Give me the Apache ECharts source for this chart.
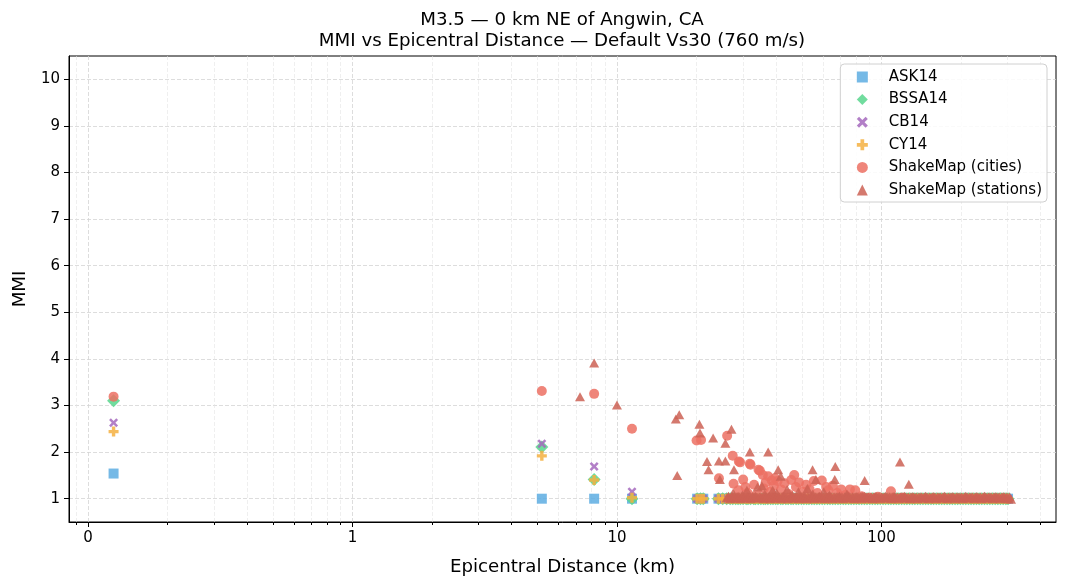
<!DOCTYPE html>
<html>
<head>
<meta charset="utf-8">
<script src="https://cdn.jsdelivr.net/npm/echarts@6/dist/echarts.min.js"></script>
<style>
html, body { margin: 0; padding: 0; background: #fff; }
#chart { width: 1067px; height: 588px; }
</style>
</head>
<body>
<div id="chart"></div>
<script>
// near-field model predictions (km, MMI)
const modelDist = [0.125, 5.2, 8.2, 11.4, 20.1, 20.7, 21.2, 24.2, 25.1];
const ask14MMI  = [1.54, 1.00, 1.00, 1.00, 1.00, 1.00, 1.00, 1.00, 1.00];
const bssa14MMI = [3.10, 2.11, 1.41, 1.00, 1.00, 1.00, 1.00, 1.00, 1.00];
const cb14MMI   = [2.63, 2.18, 1.69, 1.15, 1.00, 1.00, 1.00, 1.00, 1.00];
const cy14MMI   = [2.44, 1.92, 1.40, 1.02, 1.00, 1.00, 1.00, 1.00, 1.00];

// ShakeMap cities
const cityDist = [0.125, 5.2, 8.2, 11.4, 20.0, 20.8, 26.1, 27.4, 28.9, 29.2, 31.8, 32.0, 34.3, 34.7,
  24.3, 27.6, 30.0, 37.3, 39.6, 46.8, 35.6, 38.5, 59.5, 65.5, 76.0, 79.6, 108.6,
  28.8, 30.6, 31.2, 33.0, 33.8, 35.9, 36.5, 38.0, 39.2, 40.5, 41.8, 43.0, 44.5, 45.6, 47.5, 48.8,
  50.4, 51.9, 53.5, 55.5, 57.3, 61.8, 63.0, 68.0, 70.4, 73.1, 84.0, 90.0, 97.0, 120.0];
const cityMMI = [3.19, 3.31, 3.25, 2.50, 2.25, 2.26, 2.35, 1.92, 1.80, 1.78, 1.75, 1.73, 1.62, 1.60,
  1.44, 1.32, 1.41, 1.48, 1.44, 1.51, 1.51, 1.39, 1.39, 1.28, 1.20, 1.18, 1.16,
  1.18, 1.25, 1.12, 1.30, 1.08, 1.22, 1.35, 1.15, 1.28, 1.38, 1.20, 1.33, 1.10, 1.40, 1.25, 1.35,
  1.15, 1.30, 1.20, 1.38, 1.12, 1.25, 1.18, 1.12, 1.20, 1.08, 1.05, 1.02, 1.04, 1.02];

// ShakeMap stations (off the floor)
const stationDist = [7.25, 8.2, 10.0, 16.7, 17.2, 16.9, 20.5, 20.6, 21.9, 22.2, 23.1, 24.3, 24.5, 25.7,
  25.7, 27.1, 27.7, 31.8, 37.3, 40.7, 41.6, 54.9, 56.5, 66.9, 66.6, 35.3, 86.4, 117.5, 126.9,
  26.4, 27.5, 28.3, 29.8, 31.0, 32.6, 34.0, 36.2, 37.6, 38.8, 40.2, 42.5, 44.0, 46.0, 48.5, 51.0,
  52.5, 55.0, 58.2, 60.5, 63.5, 69.5, 74.0, 78.0, 84.5, 95.0, 112.0];
const stationMMI = [3.19, 3.91, 3.01, 2.71, 2.80, 1.50, 2.60, 2.41, 1.80, 1.62, 2.30, 1.81, 1.41, 2.19,
  1.81, 2.49, 1.62, 2.00, 2.00, 1.62, 1.48, 1.62, 1.41, 1.69, 1.41, 1.28, 1.39, 1.79, 1.31,
  1.05, 1.12, 1.02, 1.08, 1.18, 1.05, 1.25, 1.10, 1.06, 1.18, 1.12, 1.05, 1.20, 1.08, 1.15, 1.05,
  1.22, 1.10, 1.05, 1.15, 1.08, 1.05, 1.10, 1.03, 1.05, 1.03, 1.04];

// stations near the MMI floor (a solid band in the picture); all models give MMI 1 there
const floorMMI = 1.0;
const floorDist = [26.0, 26.8, 27.4, 28.1, 28.7, 29.3, 30.0, 30.8, 31.3, 32.0, 32.9, 33.4, 34.2,
  35.0, 35.8, 36.4, 37.2, 38.1, 38.9, 39.8, 40.6, 41.6, 42.4, 43.5, 44.4, 45.5, 46.4, 47.6, 48.6,
  49.8, 50.9, 52.1, 53.2, 54.5, 55.7, 57.0, 58.3, 59.7, 61.0, 62.5, 63.9, 65.4, 66.9, 68.5, 70.0,
  71.7, 73.3, 75.1, 76.8, 78.6, 80.4, 82.3, 84.2, 86.2, 88.2, 90.3, 92.4, 94.6, 96.8, 99.0, 101.4,
  103.7, 106.2, 108.6, 111.2, 113.8, 116.4, 119.2, 122.0, 124.8, 127.8, 130.8, 133.8, 137.0, 140.2,
  143.5, 146.9, 150.3, 153.9, 157.5, 161.2, 165.0, 168.9, 172.9, 177.0, 181.1, 185.4, 189.8, 194.2,
  198.8, 203.5, 208.3, 213.2, 218.2, 223.4, 228.6, 234.0, 239.5, 245.2, 251.0, 256.9, 262.9, 269.1,
  275.5, 281.9, 288.6, 295.4, 301.0, 309.0];
const stationFloorMMI = [1.02, 1.00, 1.04, 1.01, 1.05, 1.00, 1.03, 1.01, 1.04, 1.00, 1.02, 1.05, 1.01,
  1.03, 1.00, 1.04, 1.02, 1.00, 1.05, 1.01, 1.03, 1.00, 1.04, 1.02, 1.00, 1.05, 1.01, 1.03, 1.00,
  1.04, 1.01, 1.00, 1.03, 1.05, 1.00, 1.02, 1.04, 1.01, 1.00, 1.03, 1.05, 1.00, 1.02, 1.04, 1.01,
  1.00, 1.03, 1.05, 1.01, 1.00, 1.04, 1.02, 1.00, 1.05, 1.03, 1.01, 1.00, 1.04, 1.02, 1.00, 1.03,
  1.05, 1.01, 1.00, 1.04, 1.02, 1.00, 1.03, 1.05, 1.01, 1.00, 1.04, 1.02, 1.00, 1.03,
  1.01, 1.05, 1.00, 1.02, 1.04, 1.00, 1.03, 1.01, 1.05, 1.00, 1.02, 1.04, 1.00, 1.03,
  1.02, 1.00, 1.05, 1.01, 1.03, 1.00, 1.04, 1.02, 1.00, 1.05, 1.01, 1.03, 1.00, 1.04,
  1.02, 1.00, 1.04, 1.01, 1.00, 0.99];
// more stations packed in the same band, just above the floor
const bandMMI = 1.04;
const bandDist = [26.4, 27.1, 27.8, 28.4, 29.0, 29.7, 30.4, 31.1, 31.7, 32.5, 33.2, 33.8, 34.6, 35.4,
  36.1, 36.8, 37.7, 38.5, 39.4, 40.2, 41.1, 42.0, 43.0, 44.0, 45.0, 46.0, 47.0, 48.1, 49.2, 50.4,
  51.5, 52.7, 53.9, 55.1, 56.4, 57.7, 59.0, 60.4, 61.8, 63.2, 64.7, 66.2, 67.7, 69.3, 70.9, 72.5,
  74.2, 76.0, 77.7, 79.5, 81.4, 83.3, 85.2, 87.2, 89.3, 91.4, 93.5, 95.7, 97.9, 100.2, 102.6, 105.0,
  107.4, 109.9, 112.5, 115.1, 117.8, 120.6, 123.4, 126.3, 129.3, 132.3, 135.4, 138.6, 141.8, 145.2,
  148.6, 152.1, 155.7, 159.3, 163.1, 166.9, 170.9, 174.9, 179.0, 183.2, 187.6, 192.0, 196.5, 201.1,
  205.9, 210.7, 215.7, 220.8, 226.0, 231.3, 236.7, 242.3, 248.1, 253.9, 259.9, 266.0, 272.3, 278.7,
  285.2, 292.0, 298.2, 305.0];

// axis ticks
const xMajor = [0.1, 1, 10, 100];
const xMajorLabels = ['0', '1', '10', '100'];
const xMinor = [0.09, 0.2, 0.3, 0.4, 0.5, 0.6, 0.7, 0.8, 0.9, 2, 3, 4, 5, 6, 7, 8, 9,
  20, 30, 40, 50, 60, 70, 80, 90, 200, 300, 400];
const yTicks = [1, 2, 3, 4, 5, 6, 7, 8, 9, 10];

const pair = (xs, ys) => xs.map((x, i) => [x, ys[i]]);
// model points: near-field values, then the floor at every far station
const modelData = mmi => pair(modelDist, mmi).concat(floorDist.slice(0, -1).map(d => [d, floorMMI]));
const stationData = pair(stationDist, stationMMI)
  .concat(pair(floorDist, stationFloorMMI))
  .concat(bandDist.map(d => [d, bandMMI]));

const FONT = 'DejaVu Sans';
const X_PATH = 'path://M2,0 L5,3 L8,0 L10,2 L7,5 L10,8 L8,10 L5,7 L2,10 L0,8 L3,5 L0,2 Z';
const PLUS_PATH = 'path://M3.3,0 H6.7 V3.3 H10 V6.7 H6.7 V10 H3.3 V6.7 H0 V3.3 H3.3 Z';

const chart = echarts.init(document.getElementById('chart'), null, { renderer: 'canvas' });

const scatter = (name, data, symbol, size, color) => ({
  name: name,
  type: 'scatter',
  data: data,
  symbol: symbol,
  symbolSize: size,
  itemStyle: { color: color, opacity: 0.85 },
  emphasis: { disabled: true },
  animation: false
});

const option = {
  backgroundColor: '#fff',
  animation: false,
  title: {
    text: 'M3.5 — 0 km NE of Angwin, CA\nMMI vs Epicentral Distance — Default Vs30 (760 m/s)',
    left: 562,
    top: 9.5,
    padding: 0,
    textAlign: 'center',
    textStyle: { fontFamily: FONT, fontSize: 18.2, fontWeight: 'normal', color: '#000', lineHeight: 21 }
  },
  grid: {
    left: 69, right: 11, top: 56, bottom: 66,
    show: true, borderColor: '#000', borderWidth: 1, backgroundColor: 'transparent'
  },
  legend: {
    right: 20, top: 64,
    orient: 'vertical',
    backgroundColor: 'rgba(255,255,255,0.85)',
    borderColor: '#d0d0d0', borderWidth: 1, borderRadius: 4,
    padding: [5.5, 5, 4.5, 16.5],
    itemWidth: 11, itemHeight: 11, itemGap: 7.6,
    textStyle: { fontFamily: FONT, fontSize: 15, color: '#000', padding: [0, 0, 0, 16] },
    data: ['ASK14', 'BSSA14', 'CB14', 'CY14', 'ShakeMap (cities)', 'ShakeMap (stations)']
  },
  xAxis: [
    {
      type: 'log', logBase: 10, min: 0.0848, max: 457,
      name: 'Epicentral Distance (km)', nameLocation: 'middle', nameGap: 36,
      nameTextStyle: { fontFamily: FONT, fontSize: 18.2, color: '#000' },
      axisLine: { show: true, lineStyle: { color: '#000', width: 1 } },
      axisTick: { show: true, length: 5, customValues: xMajor, lineStyle: { color: '#000' } },
      axisLabel: {
        customValues: xMajor, margin: 9,
        fontFamily: FONT, fontSize: 15, color: '#000',
        formatter: v => xMajorLabels[xMajor.indexOf(v)] ?? String(v)
      },
      splitLine: { show: true, lineStyle: { color: '#d4d4d4', type: [4, 2], width: 0.8 } },
      minorTick: { show: false }
    },
    {
      type: 'log', logBase: 10, min: 0.0848, max: 457, position: 'bottom',
      axisLine: { show: false },
      axisTick: { show: true, length: 3, customValues: xMinor, lineStyle: { color: '#000' } },
      axisLabel: { show: false },
      splitLine: { show: true, lineStyle: { color: '#e4e4e4', type: [4, 2], width: 0.6 } }
    }
  ],
  yAxis: {
    type: 'value', min: 0.5, max: 10.5,
    name: 'MMI', nameLocation: 'middle', nameGap: 40,
    nameTextStyle: { fontFamily: FONT, fontSize: 18.2, color: '#000' },
    axisLine: { show: true, lineStyle: { color: '#000', width: 1 } },
    axisTick: { show: true, length: 5, customValues: yTicks, lineStyle: { color: '#000' } },
    axisLabel: { customValues: yTicks, margin: 9, fontFamily: FONT, fontSize: 15, color: '#000' },
    splitLine: { show: true, lineStyle: { color: '#d4d4d4', type: [4, 2], width: 0.8 } }
  },
  series: [
    scatter('ASK14', modelData(ask14MMI), 'rect', 10, '#5DADE2'),
    scatter('BSSA14', modelData(bssa14MMI), 'diamond', 13, '#58D68D'),
    scatter('CB14', modelData(cb14MMI), X_PATH, 9, '#A569BD'),
    scatter('CY14', modelData(cy14MMI), PLUS_PATH, 10, '#F5B041'),
    scatter('ShakeMap (cities)', pair(cityDist, cityMMI), 'circle', 10, '#EC7063'),
    scatter('ShakeMap (stations)', stationData, 'triangle', [10, 9], '#CD6155')
  ]
};

chart.setOption(option);
</script>
</body>
</html>
